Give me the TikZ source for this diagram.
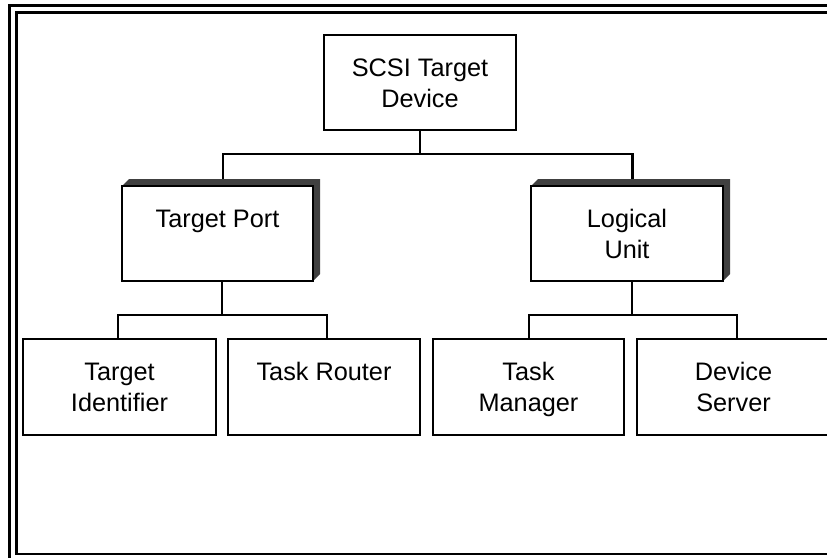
\documentclass[tikz,border=0pt]{standalone}
\usepackage{fontspec}
\setmainfont{Liberation Sans}
\usetikzlibrary{backgrounds}
\definecolor{shadowgray}{HTML}{404040}
\tikzset{
  unitbox/.style={draw, fill=white, line width=2.6pt, outer sep=0pt, inner sep=0pt,
    align=center, text height=18pt, text depth=31pt,
    font=\fontsize{25.3}{31}\selectfont, minimum height=95pt},
  twoline/.style={text height=49pt, text depth=0pt},
  conn/.style={line width=2.4pt},
  framerule/.style={line width=2.6pt},
  boxshadow/.style={fill=shadowgray}
}
\begin{document}
\begin{tikzpicture}[x=1pt,y=-1pt]
\useasboundingbox (0,0) rectangle (827,557);
\clip (0,0) rectangle (827,557);
% frames
\draw[framerule] (9.5,600) -- (9.5,5.3) -- (900,5.3);
\draw[framerule] (900,554) -- (16.3,554) -- (16.3,12.3) -- (900,12.3);
% boxes
\node[unitbox, twoline, minimum width=192pt] (top) at (420,82.5) {SCSI Target\\Device};
\node[unitbox, minimum width=191pt] (tp) at (217.5,233.5) {Target Port};
\node[unitbox, twoline, minimum width=192pt] (lu) at (627,233.5) {Logical\\Unit};
\node[unitbox, twoline, minimum width=193pt, minimum height=96pt] (ti) at (119.5,387) {Target\\Identifier};
\node[unitbox, minimum width=192pt, minimum height=96pt] (tr) at (324,387) {Task Router};
\node[unitbox, twoline, minimum width=191pt, minimum height=96pt] (tm) at (528.5,387) {Task\\Manager};
\node[unitbox, twoline, minimum width=193pt, minimum height=96pt] (ds) at (733.5,387) {Device\\Server};
% 3D shadows
\begin{scope}[on background layer]
\foreach \n in {tp,lu}{
  \fill[boxshadow] (\n.north west) -- ++(7,-7) -| ([shift={(7pt,7pt)}]\n.south east) -- (\n.south east) -- cycle;
}
\end{scope}
% connectors
\draw[conn] (top.south) -- ++(0,24) -| ([xshift=5.5pt,yshift=7pt]tp.north);
\draw[conn] (top.south) -- ++(0,24) -| ([xshift=5.5pt,yshift=7pt]lu.north);
\draw[conn] ([xshift=4.5pt]tp.south) -- ++(0,34);
\draw[conn] ([xshift=-1.5pt]ti.north) -- ++(0,-24) -| ([xshift=3pt]tr.north);
\draw[conn] ([xshift=5pt]lu.south) -- ++(0,34);
\draw[conn] ([xshift=0.5pt]tm.north) -- ++(0,-24) -| ([xshift=3.5pt]ds.north);
\end{tikzpicture}
\end{document}
